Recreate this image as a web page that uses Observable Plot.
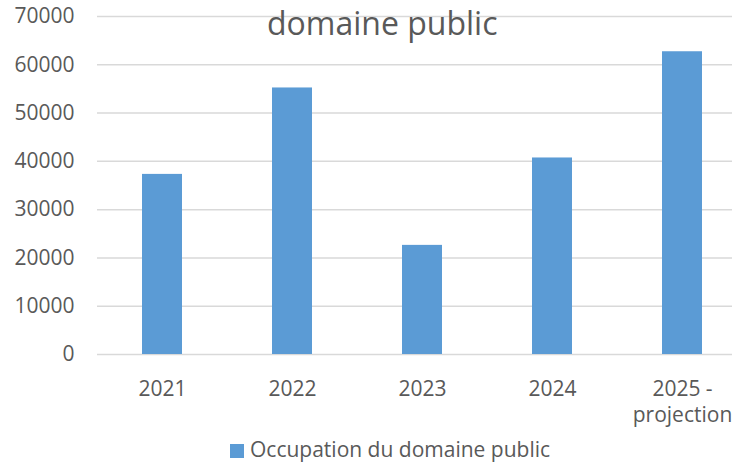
<!DOCTYPE html>
<html>
<head>
<meta charset="utf-8">
<script src="https://cdn.jsdelivr.net/npm/d3@7"></script>
<script src="https://cdn.jsdelivr.net/npm/@observablehq/plot@0.6"></script>
<style>
  html, body { margin: 0; padding: 0; background: #fff; overflow: hidden; width: 732px; height: 462px; }
  #wrap { position: relative; width: 732px; height: 462px; overflow: hidden; font-family: "Open Sans", sans-serif; color: #595959; }
  #chart { position: absolute; left: 0; top: 0; width: 748px; }
  #chart svg { max-width: none !important; }
  #title { position: absolute; left: 267px; top: -1px; font-size: 32px; line-height: 48px; color: #595959; white-space: nowrap; }
  #legend { position: absolute; left: 230px; top: 439px; font-size: 21px; line-height: 21px; color: #595959; white-space: nowrap; display: flex; align-items: flex-start; }
  #legend .sw { width: 14px; height: 14px; background: #5b9bd5; margin-right: 6px; margin-top: 5px; display: inline-block; }
</style>
</head>
<body>
<div id="wrap">
  <div id="chart"></div>
  <div id="title"></div>
  <div id="legend"></div>
</div>
<script>
const categories = ["2021", "2022", "2023", "2024", "2025 -\nprojection"];
const values = [37300, 55200, 22600, 40700, 62700];
const yTicks = [0, 10000, 20000, 30000, 40000, 50000, 60000, 70000];
const titleText = "domaine public";
const seriesName = "Occupation du domaine public";
const barColor = "#5b9bd5";

const data = categories.map((c, i) => ({category: c, value: values[i]}));

const chart = Plot.plot({
  width: 748,
  height: 462,
  marginLeft: 97,
  marginRight: 1,
  marginTop: 16,
  marginBottom: 108,
  style: {fontFamily: "Open Sans, sans-serif", fontSize: "21px", color: "#595959", background: "#fff", maxWidth: "none"},
  x: {domain: categories, paddingInner: 0.69, paddingOuter: 0.345, label: null},
  y: {domain: [0, 70000], label: null},
  marks: [
    Plot.ruleY(yTicks, {stroke: "#d9d9d9", strokeWidth: 1.5}),
    Plot.barY(data, {x: "category", y: "value", fill: barColor}),
    Plot.axisY({ticks: yTicks, tickSize: 0, tickPadding: 23, tickFormat: d => String(d), fontSize: 21, fill: "#595959", label: null}),
    Plot.axisX({tickSize: 0, tickPadding: 22, fontSize: 21, fill: "#595959", lineHeight: 1.28, label: null})
  ]
});
document.getElementById("chart").appendChild(chart);
document.getElementById("title").textContent = titleText;
const lg = document.getElementById("legend");
lg.innerHTML = '<span class="sw"></span><span></span>';
lg.lastChild.textContent = seriesName;
</script>
</body>
</html>
